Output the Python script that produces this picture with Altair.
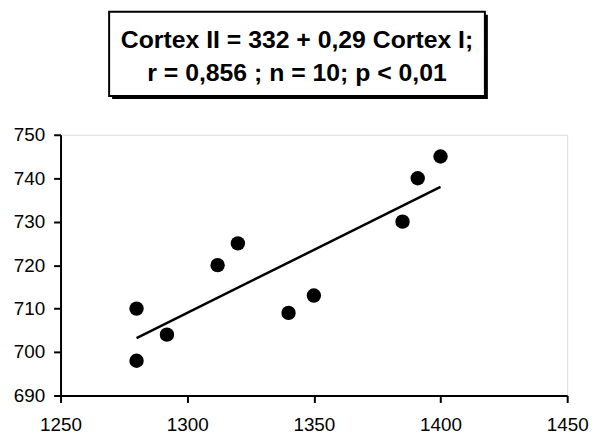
import altair as alt
import pandas as pd

cortex_i = [1280, 1280, 1292, 1312, 1320, 1340, 1350, 1385, 1391, 1400]
cortex_ii = [710, 698, 704, 720, 725, 709, 713, 730, 740, 745]
intercept = 332
slope = 0.29
line_x = [1280, 1400]
x_ticks = [1250, 1300, 1350, 1400, 1450]
y_ticks = [690, 700, 710, 720, 730, 740, 750]
title_lines = ["Cortex II = 332 + 0,29 Cortex I;", "r = 0,856 ; n = 10;  p < 0,01"]

pts = pd.DataFrame({"x": cortex_i, "y": cortex_ii})
fit = pd.DataFrame({"x": line_x, "y": [intercept + slope * v for v in line_x]})
one = pd.DataFrame({"k": [0]})

W, H = 511, 263
FONT = "Liberation Sans"

xs = alt.Scale(domain=[1250, 1450], nice=False, zero=False)
ys = alt.Scale(domain=[690, 750], nice=False, zero=False)

xax = alt.Axis(values=x_ticks, format="d", title=None, grid=False, domainColor="black", domainWidth=2,
               tickColor="black", tickWidth=2, tickSize=7, labelFont=FONT, labelFontSize=19,
               labelColor="black", labelPadding=13, labelFlush=False)
yax = alt.Axis(values=y_ticks, format="d", title=None, grid=False, domainColor="black", domainWidth=2,
               tickColor="black", tickWidth=2, tickSize=7, labelFont=FONT, labelFontSize=19,
               labelColor="black", labelPadding=9, labelFlush=False)

points = alt.Chart(pts).mark_circle(size=210, color="black", opacity=1).encode(
    x=alt.X("x:Q", scale=xs, axis=xax),
    y=alt.Y("y:Q", scale=ys, axis=yax),
)
line = alt.Chart(fit).mark_line(color="black", strokeWidth=2.5).encode(
    x=alt.X("x:Q", scale=xs), y=alt.Y("y:Q", scale=ys)
)

bx0, bx1, by0, by1 = 49, 428, -124, -39
shadow = alt.Chart(one).mark_rect(color="black").encode(
    x=alt.value(bx0 + 3), x2=alt.value(bx1 + 3), y=alt.value(by0 + 3), y2=alt.value(by1 + 3)
)
box = alt.Chart(one).mark_rect(fill="white", stroke="black", strokeWidth=2).encode(
    x=alt.value(bx0), x2=alt.value(bx1), y=alt.value(by0), y2=alt.value(by1)
)
t1 = alt.Chart(one).mark_text(text=title_lines[0], font=FONT, fontSize=25, fontWeight="bold",
                              color="black", align="center", baseline="middle").encode(
    x=alt.value((bx0 + bx1) / 2), y=alt.value(-96)
)
t2 = alt.Chart(one).mark_text(text=title_lines[1], font=FONT, fontSize=25, fontWeight="bold",
                              color="black", align="center", baseline="middle").encode(
    x=alt.value((bx0 + bx1) / 2), y=alt.value(-62)
)

chart = alt.layer(line, points, shadow, box, t1, t2).properties(
    width=W, height=H,
    autosize=alt.AutoSizeParams(type="none"),
    padding={"left": 53, "top": 126, "right": 22, "bottom": 40},
).configure_view(stroke=None).configure(background="white")

chart.save("out.html", embed_options={"renderer": "svg", "actions": False})
